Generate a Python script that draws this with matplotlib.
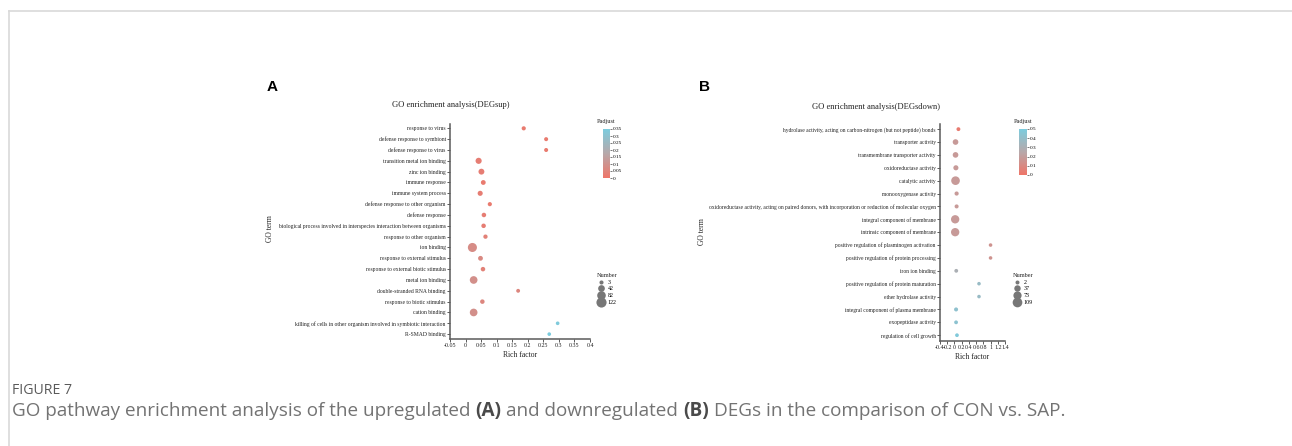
import matplotlib
matplotlib.use('Agg')
import matplotlib.pyplot as plt
import numpy as np
from matplotlib.colors import LinearSegmentedColormap, Normalize
from matplotlib.colorbar import ColorbarBase
from matplotlib.lines import Line2D

# ---------------- data ----------------
terms_up = [
    "response to virus", "defense response to symbiont", "defense response to virus",
    "transition metal ion binding", "zinc ion binding", "immune response",
    "immune system process", "defense response to other organism", "defense response",
    "biological process involved in interspecies interaction between organisms",
    "response to other organism", "ion binding", "response to external stimulus",
    "response to external biotic stimulus", "metal ion binding", "double-stranded RNA binding",
    "response to biotic stimulus", "cation binding",
    "killing of cells in other organism involved in symbiotic interaction", "R-SMAD binding",
]
rich_up = [0.187, 0.259, 0.259, 0.042, 0.051, 0.057, 0.047, 0.078, 0.059, 0.058,
           0.064, 0.022, 0.048, 0.056, 0.026, 0.169, 0.054, 0.026, 0.296, 0.269]
number_up = [10, 8, 8, 45, 40, 20, 25, 10, 15, 15, 12, 122, 20, 15, 82, 6, 15, 82, 3, 3]
padj_up = [0.02, 0.02, 0.02, 0.03, 0.03, 0.02, 0.03, 0.02, 0.03, 0.03,
           0.04, 0.08, 0.07, 0.04, 0.09, 0.06, 0.06, 0.09, 0.34, 0.35]

terms_down = [
    "hydrolase activity, acting on carbon-nitrogen (but not peptide) bonds",
    "transporter activity", "transmembrane transporter activity", "oxidoreductase activity",
    "catalytic activity", "monooxygenase activity",
    "oxidoreductase activity, acting on paired donors, with incorporation or reduction of molecular oxygen",
    "integral component of membrane", "intrinsic component of membrane",
    "positive regulation of plasminogen activation", "positive regulation of protein processing",
    "iron ion binding", "positive regulation of protein maturation", "ether hydrolase activity",
    "integral component of plasma membrane", "exopeptidase activity", "regulation of cell growth",
]
rich_down = [0.11, 0.03, 0.03, 0.04, 0.03, 0.06, 0.06, 0.02, 0.02, 1.0, 1.0,
             0.05, 0.68, 0.68, 0.045, 0.045, 0.07]
number_down = [6, 35, 35, 25, 109, 10, 8, 100, 100, 2, 2, 5, 2, 2, 8, 5, 4]
padj_down = [0.03, 0.18, 0.18, 0.18, 0.18, 0.18, 0.18, 0.18, 0.18, 0.15, 0.15,
             0.30, 0.38, 0.38, 0.42, 0.43, 0.48]

xticks_up = [-0.05, 0, 0.05, 0.1, 0.15, 0.2, 0.25, 0.3, 0.35, 0.4]
xticks_down = [-0.4, -0.2, 0, 0.2, 0.4, 0.6, 0.8, 1, 1.2, 1.4]
cbticks_up = [0, 0.05, 0.1, 0.15, 0.2, 0.25, 0.3, 0.35]
cbticks_down = [0, 0.1, 0.2, 0.3, 0.4, 0.5]
legend_up = [3, 42, 82, 122]
legend_down = [2, 37, 73, 109]

# ---------------- figure ----------------
W, H = 1292, 446
fig = plt.figure(figsize=(W / 100, H / 100), dpi=100)
plt.rcParams['font.family'] = ['Liberation Serif', 'DejaVu Serif']

cmap = LinearSegmentedColormap.from_list('padj', ['#EF7568', '#B7A8AA', '#7CCCDE'])
SPINE = '#5a5a5a'


def fx(px):
    return px / W


def fy(py):
    return 1 - py / H


def size(n):
    return 6 + 0.3 * np.asarray(n, dtype=float)


def fmt(v):
    return '%g' % v


def panel(box, terms, rich, num, padj, xlim, xticks, vmax, cbticks, legvals,
          title, title_xy, cbbox, leg_xy, ylab_xy, label_fs):
    l, t, r, b = box
    ax = fig.add_axes([fx(l), fy(b), fx(r - l), (b - t) / H])
    y = np.arange(len(terms))
    ax.scatter(rich, y, s=size(num), c=padj, cmap=cmap, vmin=0, vmax=vmax,
               edgecolors='none', zorder=3, clip_on=False)
    ax.set_yticks(y)
    ax.set_yticklabels(terms, fontsize=label_fs)
    ax.set_ylim(len(terms) - 1 + 0.45, -0.4)
    ax.set_xlim(xlim)
    ax.set_xticks(xticks)
    ax.set_xticklabels([fmt(v) for v in xticks], fontsize=4.3)
    for s in ['top', 'right']:
        ax.spines[s].set_visible(False)
    for s in ['left', 'bottom']:
        ax.spines[s].set_color(SPINE)
        ax.spines[s].set_linewidth(1.1)
    ax.tick_params(length=2, width=0.7, color=SPINE, pad=1, labelcolor='#222222')
    ax.set_xlabel('Rich factor', fontsize=5.5, labelpad=2, color='#222222')
    ax.set_ylabel('GO term', fontsize=5.5, color='#222222')
    ax.yaxis.set_label_coords(fx(ylab_xy[0]), fy(ylab_xy[1]), transform=fig.transFigure)
    fig.text(fx(title_xy[0]), fy(title_xy[1]), title, fontsize=6.1, ha='center', va='center',
             color='#222222')

    # colour bar
    cl, ct, cr, cb = cbbox
    cax = fig.add_axes([fx(cl), fy(cb), fx(cr - cl), (cb - ct) / H])
    cbar = ColorbarBase(cax, cmap=cmap, norm=Normalize(0, vmax), ticks=cbticks)
    cbar.outline.set_visible(False)
    cbar.ax.set_yticklabels([fmt(v) for v in cbticks])
    cbar.ax.tick_params(labelsize=3.8, length=1.5, width=0.5, pad=0.8, color='#444444')
    fig.text(fx((cl + cr) / 2), fy(ct - 8), 'Padjust', fontsize=4.5, ha='center',
             va='center', color='#222222')

    # size legend
    handles = [Line2D([], [], linestyle='none', marker='o', markersize=1.12 * np.sqrt(size(v)),
                      markerfacecolor='#777777', markeredgecolor='none') for v in legvals]
    leg = ax.legend(handles, [str(v) for v in legvals], title='Number', loc='upper left',
                    bbox_to_anchor=(fx(leg_xy[0]), fy(leg_xy[1])),
                    bbox_transform=fig.transFigure, frameon=False, fontsize=4.3,
                    title_fontsize=4.5, labelspacing=0.25, handletextpad=0.6,
                    borderpad=0, handlelength=1.0, borderaxespad=0)
    leg.get_title().set_color('#222222')
    return ax


panel((450, 124, 590, 339), terms_up, rich_up, number_up, padj_up,
      (-0.05, 0.4), xticks_up, 0.35, cbticks_up, legend_up,
      'GO enrichment analysis(DEGsup)', (451, 105), (603, 129, 610, 178),
      (597, 273), (274, 229), 4.05)

panel((940, 124, 1005, 341), terms_down, rich_down, number_down, padj_down,
      (-0.4, 1.4), xticks_down, 0.5, cbticks_down, legend_down,
      'GO enrichment analysis(DEGsdown)', (876, 107), (1019, 129, 1027, 175),
      (1013, 273), (706, 232), 4.0)

# panel letters
fig.text(fx(272), fy(87), 'A', fontsize=11, fontweight='bold', ha='center', va='center',
         family=['Liberation Sans', 'DejaVu Sans'])
fig.text(fx(704), fy(87), 'B', fontsize=11, fontweight='bold', ha='center', va='center',
         family=['Liberation Sans', 'DejaVu Sans'])

# border lines
fig.add_artist(Line2D([fx(9), 1], [fy(11), fy(11)], color='#d9d9d9', lw=1.2))
fig.add_artist(Line2D([fx(9), fx(9)], [fy(11), 0], color='#d9d9d9', lw=1.2))

# caption
CAPF = ['Open Sans', 'DejaVu Sans']
renderer = fig.canvas.get_renderer()


def width_of(txt, fs, weight='normal'):
    t = fig.text(0, 0, txt, fontsize=fs, fontweight=weight, family=CAPF)
    w = t.get_window_extent(renderer).width
    t.remove()
    return w


fs0 = 10
w0 = width_of('FIGURE 7', fs0)
fs_fig = fs0 * 60 / w0
fig.text(fx(12), fy(390), 'FIGURE 7', fontsize=fs_fig, family=CAPF, color='#5a5a5a',
         ha='left', va='center')

pieces = [("GO pathway enrichment analysis of the upregulated", 'normal'),
          ("(A)", 'bold'), ("and downregulated", 'normal'), ("(B)", 'bold'),
          ("DEGs in the comparison of CON vs. SAP.", 'normal')]


def total_width(fs):
    sp = width_of('x x', fs) - width_of('xx', fs)
    return sum(width_of(p, fs, wt) for p, wt in pieces) + sp * (len(pieces) - 1), sp


tw, _ = total_width(12)
fs_cap = 12 * 1050 / tw
_, sp = total_width(fs_cap)
x = 12
for p, wt in pieces:
    t = fig.text(fx(x), fy(411), p, fontsize=fs_cap, fontweight=wt, family=CAPF,
                 color='#737373' if wt == 'normal' else '#4a4a4a', ha='left', va='center')
    x += t.get_window_extent(renderer).width + sp

fig.savefig('out.png', dpi=100)
